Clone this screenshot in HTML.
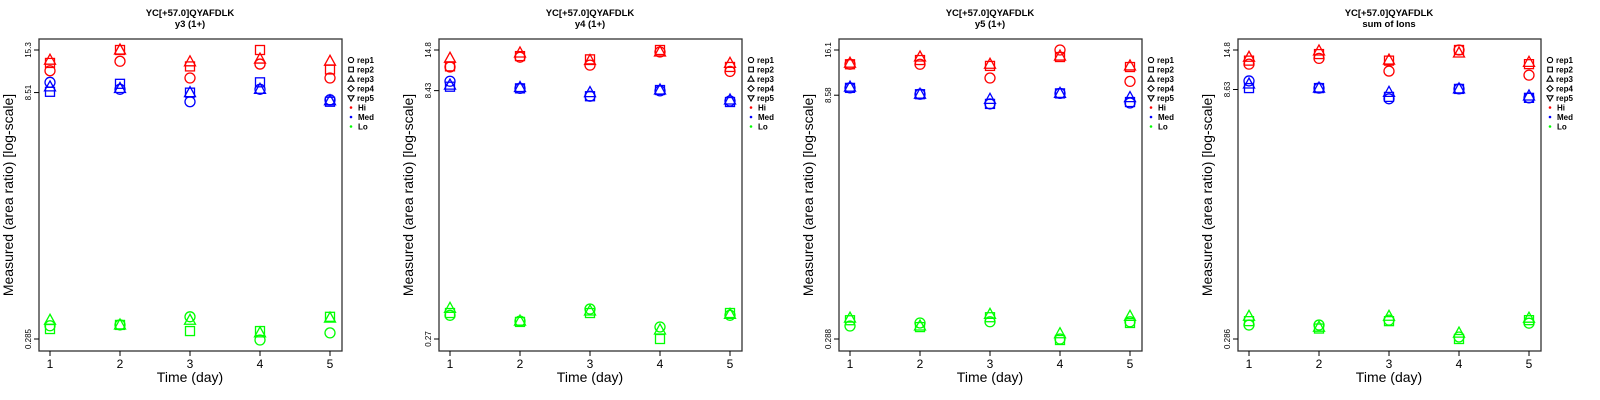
<!DOCTYPE html>
<html><head><meta charset="utf-8"><style>
html,body{margin:0;padding:0;background:#fff;}
svg{display:block;font-family:"Liberation Sans",sans-serif;}
</style></head><body>
<svg id="chart" width="1600" height="400" viewBox="0 0 1600 400" xmlns="http://www.w3.org/2000/svg"></svg>
<script>
const panelTitles = ["y3 (1+)", "y4 (1+)", "y5 (1+)", "sum of Ions"];
const peptide = "YC[+57.0]QYAFDLK";
const yMin = [0.285, 0.27, 0.288, 0.286];
const yMax = [15.3, 14.8, 16.1, 14.8];
const yMid = [8.51, 8.43, 8.58, 8.63];
const days = [1, 2, 3, 4, 5];
const reps = ["rep1", "rep2", "rep3", "rep4", "rep5"];
const groups = ["Hi", "Med", "Lo"];
const groupColors = ["#ff0000", "#0000ff", "#00ff00"];
// values [rep][day]; rep4/rep5 have no measurements
const p1Hi = [[11.5,13.1,10.4,12.6,10.4],[12.8,15.3,12.2,15.3,11.7],[13.3,15.3,13.0,13.5,13.1],[],[]];
const p1Med = [[9.8,8.9,7.5,8.9,7.7],[8.6,9.6,8.5,9.8,7.5],[9.2,9.0,8.5,8.9,7.6],[],[]];
const p1Lo = [[0.342,0.346,0.387,0.281,0.31],[0.327,0.346,0.318,0.318,0.387],[0.369,0.346,0.369,0.31,0.38],[],[]];
const p2Hi = [[11.7,13.4,12.0,14.4,11.0],[11.8,13.6,13.0,14.8,11.7],[13.2,14.2,12.8,14.4,12.3],[],[]];
const p2Med = [[9.6,8.7,7.8,8.4,7.3],[8.9,8.7,7.8,8.5,7.2],[9.1,8.8,8.2,8.5,7.4],[],[]];
const p2Lo = [[0.375,0.346,0.409,0.319,0.375],[0.387,0.342,0.387,0.27,0.387],[0.413,0.346,0.398,0.306,0.38],[],[]];
const p3Hi = [[13.2,13.2,10.9,16.1,10.4],[13.2,14.0,12.9,14.6,12.7],[13.4,14.6,13.2,14.8,12.9],[],[]];
const p3Med = [[9.5,8.7,7.6,8.8,7.7],[9.5,8.7,7.6,8.8,7.8],[9.6,8.7,8.1,8.8,8.3],[],[]];
const p3Lo = [[0.345,0.36,0.366,0.288,0.366],[0.374,0.34,0.39,0.284,0.36],[0.385,0.345,0.406,0.31,0.395],[],[]];
const p4Hi = [[12.2,13.2,11.1,14.8,10.5],[12.8,14.0,12.8,14.8,12.2],[13.4,14.6,12.9,14.2,12.5],[],[]];
const p4Med = [[9.7,8.8,7.6,8.7,7.7],[8.8,8.8,7.8,8.7,7.7],[9.3,8.8,8.3,8.7,7.9],[],[]];
const p4Lo = [[0.346,0.346,0.37,0.294,0.355],[0.365,0.33,0.365,0.286,0.37],[0.39,0.336,0.39,0.31,0.38],[],[]];
const panelData = [[p1Hi,p1Med,p1Lo],[p2Hi,p2Med,p2Lo],[p3Hi,p3Med,p3Lo],[p4Hi,p4Med,p4Lo]];

const NS = "http://www.w3.org/2000/svg";
const svg = document.getElementById("chart");
function mk(tag, attrs, parent, text){
  const e = document.createElementNS(NS, tag);
  for (const k in attrs) e.setAttribute(k, attrs[k]);
  if (text !== undefined) e.textContent = text;
  parent.appendChild(e);
  return e;
}
function marker(g, shape, cx, cy, color){
  const sw = 1.3;
  let e;
  if (shape === 0) e = mk("circle", {cx:cx, cy:cy, r:5, fill:"none", stroke:color, "stroke-width":sw}, g);
  else if (shape === 1) e = mk("rect", {x:cx-4.5, y:cy-4.5, width:9, height:9, fill:"none", stroke:color, "stroke-width":sw}, g);
  else if (shape === 2) e = mk("polygon", {points:`${cx},${cy-6} ${cx-5.5},${cy+4} ${cx+5.5},${cy+4}`, fill:"none", stroke:color, "stroke-width":sw}, g);
  else if (shape === 3) e = mk("polygon", {points:`${cx},${cy-5.5} ${cx+5.5},${cy} ${cx},${cy+5.5} ${cx-5.5},${cy}`, fill:"none", stroke:color, "stroke-width":sw}, g);
  else e = mk("polygon", {points:`${cx},${cy+6} ${cx-5.5},${cy-4} ${cx+5.5},${cy-4}`, fill:"none", stroke:color, "stroke-width":sw}, g);
  return e;
}
const L = 39, R = 342, T = 39, B = 351, yTop = 50, yBot = 339, x1 = 50, x5 = 330;
for (let p = 0; p < 4; p++){
  const ox = p * 400 - (p === 3 ? 1 : 0);
  const g = mk("g", {transform:`translate(${ox},0)`}, svg);
  
  
  const xs = d => x1 + (d - 1) * (x5 - x1) / 4;
  const ys = v => yBot - (Math.log(v) - Math.log(yMin[p])) / (Math.log(yMax[p]) - Math.log(yMin[p])) * (yBot - yTop);
  const t1 = mk("text", {x:190, y:16, "text-anchor":"middle", "font-size":9.5, "font-weight":"bold"}, g, peptide);
  
  
  const t2 = mk("text", {x:190, y:27, "text-anchor":"middle", "font-size":9.5, "font-weight":"bold"}, g, panelTitles[p]);
  
  
  const box = mk("rect", {x:L, y:T, width:R-L, height:B-T, fill:"none", stroke:"#333", "stroke-width":1.3}, g);
  
  
  days.forEach(d => {
    const x = xs(d);
    mk("line", {x1:x, y1:B, x2:x, y2:B+5, stroke:"#000"}, g);
    const tl = mk("text", {x:x, y:368, "text-anchor":"middle", "font-size":12}, g, String(d));
    
    
  });
  [yMin[p], yMid[p], yMax[p]].forEach(v => {
    const y = ys(v);
    mk("line", {x1:L-5, y1:y, x2:L, y2:y, stroke:"#000"}, g);
    const tl = mk("text", {x:0, y:0, "text-anchor":"middle", "font-size":8, transform:`translate(31,${y}) rotate(-90)`}, g, String(v));
    
    
  });
  const xl = mk("text", {x:190, y:382, "text-anchor":"middle", "font-size":14}, g, "Time (day)");
  
  
  const yl = mk("text", {x:0, y:0, "text-anchor":"middle", "font-size":14, transform:"translate(13,195) rotate(-90)"}, g, "Measured (area ratio) [log-scale]");
  
  
  panelData[p].forEach((grp, gi) => {
    grp.forEach((vals, ri) => {
      vals.forEach((v, di) => {
        const m = marker(g, ri, xs(days[di]), ys(v), groupColors[gi]);
        
        
      });
    });
  });
  const lg = mk("g", {}, g);
  
  
  const rowY = i => 60 + i * 9.5;
  reps.forEach((r, i) => {
    const y = rowY(i);
    let s;
    if (i === 0) s = mk("circle", {cx:351, cy:y, r:2.6, fill:"none", stroke:"#000", "stroke-width":1.1}, lg);
    else if (i === 1) s = mk("rect", {x:348.8, y:y-2.3, width:4.6, height:4.6, fill:"none", stroke:"#000", "stroke-width":1.1}, lg);
    else if (i === 2) s = mk("polygon", {points:`351,${y-3} 348,${y+2.2} 354,${y+2.2}`, fill:"none", stroke:"#000", "stroke-width":1.1}, lg);
    else if (i === 3) s = mk("polygon", {points:`351,${y-3} 354,${y} 351,${y+3} 348,${y}`, fill:"none", stroke:"#000", "stroke-width":1.1}, lg);
    else s = mk("polygon", {points:`351,${y+3} 348,${y-2.2} 354,${y-2.2}`, fill:"none", stroke:"#000", "stroke-width":1.1}, lg);
    
    
    const t = mk("text", {x:357, y:y+3, "font-size":8, "font-weight":"bold"}, lg, r);
    
    
  });
  groups.forEach((gname, i) => {
    const y = rowY(5 + i);
    const s = mk("circle", {cx:351, cy:y, r:1.3, fill:groupColors[i]}, lg);
    
    
    const t = mk("text", {x:358, y:y+3, "font-size":8, "font-weight":"bold"}, lg, gname);
    
    
  });
}
</script>
</body></html>
